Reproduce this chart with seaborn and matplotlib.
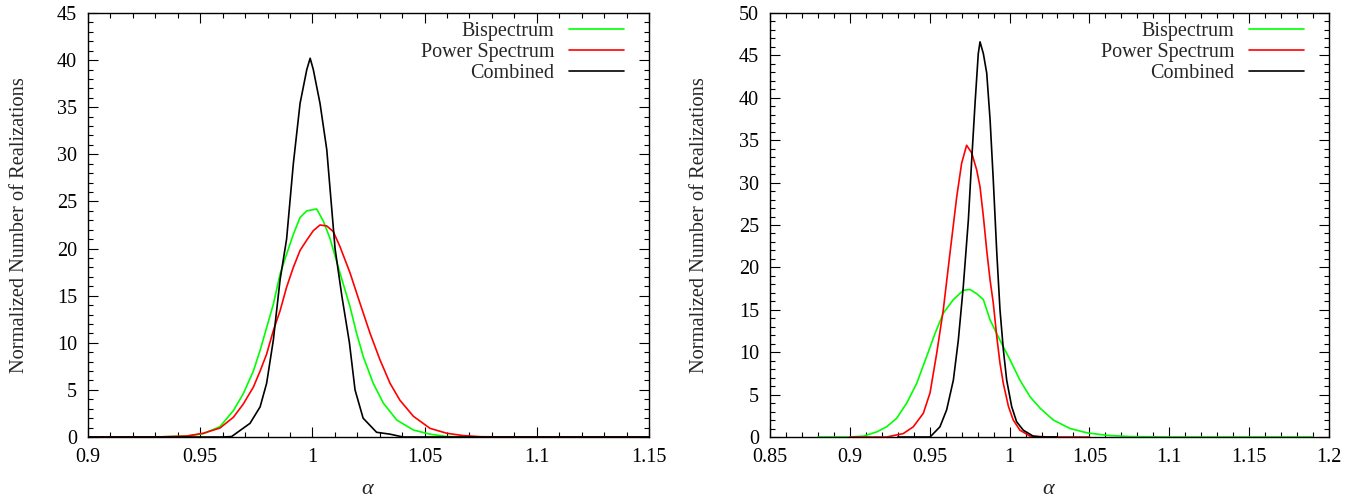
import numpy as np
import pandas as pd
import matplotlib
matplotlib.use("Agg")
import matplotlib.pyplot as plt
from matplotlib.ticker import MultipleLocator
import seaborn as sns

# ---------------- data ----------------
# Left panel
l_bis_x = [0.900, 0.930, 0.944, 0.9514, 0.9588, 0.9648, 0.9692, 0.9737, 0.9767, 0.9796, 0.9826,
           0.9856, 0.9885, 0.9915, 0.9945, 0.9975, 1.0019, 1.0049, 1.0078, 1.0123, 1.0168,
           1.0197, 1.0227, 1.0271, 1.0316, 1.0376, 1.045, 1.0524, 1.0598, 1.070, 1.150]
l_bis_y = [0.0, 0.0, 0.1, 0.35, 1.1, 2.8, 4.6, 7.0, 9.2, 11.6, 14.1,
           17.3, 19.4, 21.5, 23.3, 24.0, 24.2, 22.9, 21.1, 17.4, 13.8,
           11.0, 8.5, 5.7, 3.6, 1.8, 0.74, 0.3, 0.05, 0.0, 0.0]

l_pow_x = [0.900, 0.930, 0.944, 0.9514, 0.9588, 0.9648, 0.9692, 0.9737, 0.9767, 0.9796, 0.9826,
           0.9856, 0.9885, 0.9915, 0.9945, 0.9975, 1.0004, 1.0034, 1.0064, 1.0093, 1.0123,
           1.0168, 1.0212, 1.0257, 1.0301, 1.0346, 1.039, 1.045, 1.0524, 1.0598, 1.0672,
           1.075, 1.090, 1.150]
l_pow_y = [0.0, 0.0, 0.1, 0.4, 0.95, 2.1, 3.5, 5.3, 7.0, 8.8, 11.3,
           13.4, 15.9, 18.0, 19.8, 20.9, 21.9, 22.5, 22.4, 21.8, 20.2,
           17.4, 14.2, 11.0, 8.2, 5.7, 3.9, 2.2, 0.92, 0.4, 0.15,
           0.03, 0.0, 0.0]

l_com_x = [0.900, 0.960, 0.964, 0.9722, 0.9767, 0.9796, 0.9826, 0.9856, 0.9885, 0.9915, 0.9945,
           0.9975, 0.999, 1.0004, 1.0034, 1.0064, 1.0101, 1.0131, 1.0165, 1.019, 1.0226,
           1.0286, 1.0346, 1.0404, 1.050, 1.150]
l_com_y = [0.0, 0.0, 0.05, 1.45, 3.2, 5.7, 10.3, 16.7, 21.0, 29.0, 35.4,
           39.0, 40.2, 39.0, 35.4, 30.5, 20.0, 15.0, 10.0, 5.0, 2.0,
           0.5, 0.3, 0.0, 0.0, 0.0]

# Right panel
r_bis_x = [0.880, 0.900, 0.9084, 0.9168, 0.923, 0.9293, 0.9356, 0.9418, 0.9481, 0.9533, 0.9585,
           0.9648, 0.971, 0.9752, 0.9794, 0.9836, 0.9878, 0.994, 1.0003, 1.0065, 1.0128,
           1.0191, 1.0274, 1.0379, 1.0483, 1.0608, 1.0754, 1.100, 1.190]
r_bis_y = [0.0, 0.0, 0.1, 0.6, 1.2, 2.2, 4.0, 6.3, 9.5, 12.2, 14.6,
           16.2, 17.3, 17.4, 16.9, 16.2, 13.8, 11.4, 9.1, 6.7, 4.75,
           3.4, 2.0, 1.0, 0.5, 0.2, 0.05, 0.0, 0.0]

r_pow_x = [0.900, 0.923, 0.9334, 0.9397, 0.946, 0.9502, 0.9544, 0.9585, 0.9627, 0.9669, 0.970,
           0.9731, 0.9763, 0.9794, 0.9815, 0.9836, 0.9857, 0.9878, 0.9898, 0.992, 0.994,
           0.9961, 0.9993, 1.0023, 1.0065, 1.0128, 1.025, 1.050]
r_pow_y = [0.0, 0.0, 0.4, 1.2, 2.8, 5.2, 9.9, 15.0, 21.7, 28.3, 32.3,
           34.4, 33.5, 31.5, 29.5, 26.0, 22.0, 18.5, 15.8, 11.8, 8.7,
           6.3, 3.6, 2.0, 0.8, 0.1, 0.0, 0.0]

r_com_x = [0.930, 0.9502, 0.9564, 0.9606, 0.9648, 0.9679, 0.971, 0.9742, 0.9763, 0.9784, 0.9804,
           0.9815, 0.9836, 0.9857, 0.9878, 0.9898, 0.992, 0.994, 0.9961, 0.9982, 1.0013,
           1.0044, 1.0086, 1.0148, 1.020, 1.030]
r_com_y = [0.0, 0.0, 1.2, 3.2, 6.7, 11.4, 17.7, 25.6, 32.7, 39.4, 45.2,
           46.6, 45.2, 42.9, 37.4, 30.3, 21.7, 15.0, 10.3, 6.7, 3.6,
           1.8, 0.8, 0.1, 0.0, 0.0]

series_names = ["Bispectrum", "Power Spectrum", "Combined"]
series_colors = ["#00ff00", "#ff0000", "#000000"]

left_xticks = [0.9, 0.95, 1.0, 1.05, 1.1, 1.15]
left_xticklabels = ["0.9", "0.95", "1", "1.05", "1.1", "1.15"]
right_xticks = [0.85, 0.9, 0.95, 1.0, 1.05, 1.1, 1.15, 1.2]
right_xticklabels = ["0.85", "0.9", "0.95", "1", "1.05", "1.1", "1.15", "1.2"]

# ---------------- styling ----------------
sns.set_style("ticks")
plt.rcParams["font.family"] = ["Liberation Serif", "DejaVu Serif"]
plt.rcParams["mathtext.fontset"] = "custom"
plt.rcParams["mathtext.it"] = "Liberation Serif:italic"
plt.rcParams["mathtext.rm"] = "Liberation Serif"

fig = plt.figure(figsize=(13.63, 5.0), dpi=100)
ax1 = fig.add_axes([88 / 1363, 63 / 500, 561 / 1363, 424 / 500])
ax2 = fig.add_axes([770 / 1363, 63 / 500, 559 / 1363, 424 / 500])


def make_df(xs, ys):
    frames = []
    for name, x, y in zip(series_names, xs, ys):
        frames.append(pd.DataFrame({"alpha": x, "count": y, "series": name}))
    return pd.concat(frames, ignore_index=True)


df_left = make_df([l_bis_x, l_pow_x, l_com_x], [l_bis_y, l_pow_y, l_com_y])
df_right = make_df([r_bis_x, r_pow_x, r_com_x], [r_bis_y, r_pow_y, r_com_y])

palette = dict(zip(series_names, series_colors))

for ax, df, xlim, ylim, xt, xtl, ylab_x in [
    (ax1, df_left, (0.9, 1.15), (0, 45), left_xticks, left_xticklabels, -0.106),
    (ax2, df_right, (0.85, 1.2), (0, 50), right_xticks, right_xticklabels, -0.109),
]:
    sns.lineplot(data=df, x="alpha", y="count", hue="series", hue_order=series_names,
                 palette=palette, ax=ax, linewidth=1.2, estimator=None, sort=False)
    ax.set_xlim(*xlim)
    ax.set_ylim(*ylim)
    ax.set_xticks(xt)
    ax.set_xticklabels(xtl)
    ax.xaxis.set_minor_locator(MultipleLocator(0.01))
    ax.yaxis.set_major_locator(MultipleLocator(5))
    ax.yaxis.set_minor_locator(MultipleLocator(1))
    ax.tick_params(which="both", direction="in", top=True, right=True,
                   labelsize=14.5, width=0.8, colors="black")
    ax.tick_params(which="major", length=7, pad=8)
    ax.tick_params(which="minor", length=3.5)
    for sp in ax.spines.values():
        sp.set_visible(True)
        sp.set_linewidth(1.0)
        sp.set_color("black")
    ax.set_xlabel(r"$\alpha$", fontsize=16, labelpad=9)
    ax.set_ylabel("Normalized Number of Realizations", fontsize=14.7)
    ax.yaxis.set_label_coords(ylab_x, 0.5)
    handles, labels = ax.get_legend_handles_labels()
    ax.legend(handles, labels, loc="upper right", frameon=False, markerfirst=False,
              fontsize=14.5, handlelength=2.74, handletextpad=0.7, labelspacing=0.09,
              bbox_to_anchor=(0.955, 0.979), borderaxespad=0.0, borderpad=0.0)

fig.savefig("out.png", dpi=100)
